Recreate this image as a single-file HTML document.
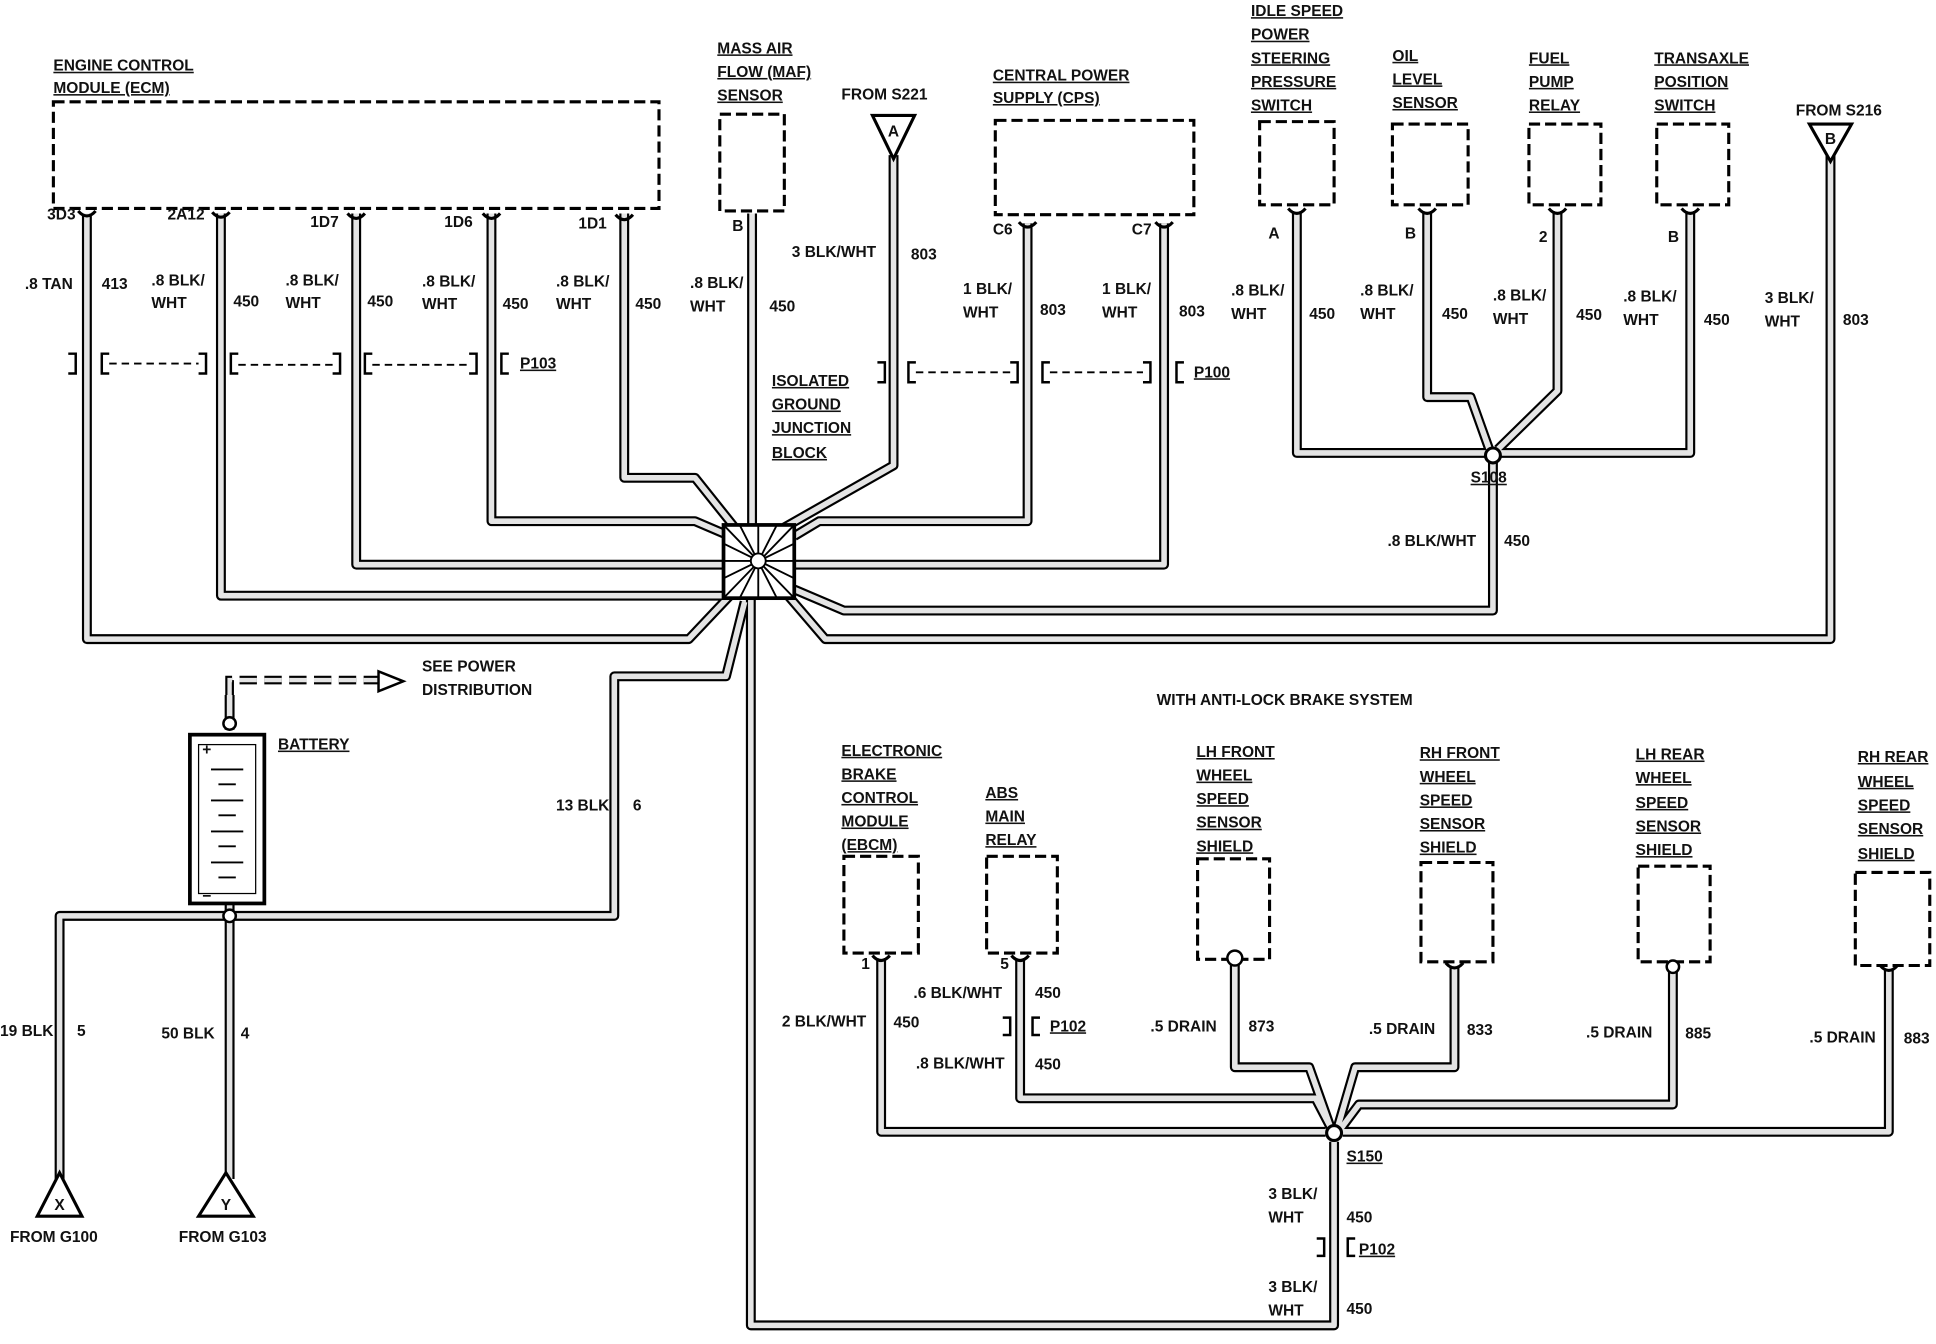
<!DOCTYPE html>
<html><head><meta charset="utf-8"><style>
html,body{margin:0;padding:0;background:#fff;}
svg{display:block}
text{font-family:"Liberation Sans",sans-serif;font-weight:bold;font-size:12.5px;fill:#111;}
.u{text-decoration:underline}
.c{text-anchor:middle}
</style></head><body>
<svg width="1936" height="1344" viewBox="0 0 1560 1083" xmlns="http://www.w3.org/2000/svg">
<defs>
<g id="pin"><path d="M-7,-4 Q0,4 7,-4" fill="none" stroke="#000" stroke-width="2.5"/></g>
<g id="wires">
<path d="M70,172 V515 H555 L590,478"/>
<path d="M178,172 V480 H583"/>
<path d="M287,172 V455 H583"/>
<path d="M396,172 V420 H560 L588,432"/>
<path d="M503,172 V385 H560 L592,425"/>
<path d="M606,172 V423"/>
<path d="M720,125 V375 L632,425"/>
<path d="M828,180 V420 H660 L640,432"/>
<path d="M938,180 V455 H640"/>
<path d="M1045,170 V365 H1198"/>
<path d="M1150,170 V320 H1185 L1200,362"/>
<path d="M1255,170 V315 L1207,362"/>
<path d="M1362,170 V365 H1208"/>
<path d="M1203,372 V492 H680 L640,475"/>
<path d="M1475,125 V515 H665 L635,480"/>
<path d="M185,560 V588"/>
<path d="M185,728 V950"/>
<path d="M185,738 H48 V950"/>
<path d="M185,738 H495 V545 H585 L600,485"/>
<path d="M605,482 V1068 H1075 V920"/>
<path d="M710,772 V912 H1068"/>
<path d="M822,772 V885 H1060 L1072,908"/>
<path d="M995,775 V860 H1055 L1072,908"/>
<path d="M1172,778 V860 H1092 L1078,908"/>
<path d="M1348,780 V890 H1095 L1080,910"/>
<path d="M1522,782 V912 H1082"/>
</g>
</defs>
<g fill="none" stroke="#000" stroke-width="2.5" stroke-dasharray="9,4">
<rect x="43" y="82" width="488" height="86"/>
<rect x="580" y="92" width="52" height="78"/>
<rect x="802" y="97" width="160" height="76"/>
<rect x="1015" y="98" width="60" height="67"/>
<rect x="1122" y="100" width="61" height="65"/>
<rect x="1232" y="100" width="58" height="65"/>
<rect x="1335" y="100" width="58" height="65"/>
<rect x="680" y="690" width="60" height="78"/>
<rect x="795" y="690" width="57" height="78"/>
<rect x="965" y="692" width="58" height="81"/>
<rect x="1145" y="695" width="58" height="80"/>
<rect x="1320" y="698" width="58" height="77"/>
<rect x="1495" y="703" width="60" height="75"/>
</g>
<g fill="none" stroke-linejoin="round">
<use href="#wires" stroke="#000" stroke-width="8"/>
<use href="#wires" stroke="#e4e4e4" stroke-width="4.5"/>
</g>
<use href="#pin" x="70" y="174"/><use href="#pin" x="178" y="175"/><use href="#pin" x="287" y="176"/><use href="#pin" x="396" y="176"/><use href="#pin" x="503" y="177"/>
<use href="#pin" x="828" y="183"/><use href="#pin" x="938" y="183"/><use href="#pin" x="1045" y="172"/><use href="#pin" x="1150" y="172"/><use href="#pin" x="1255" y="172"/><use href="#pin" x="1362" y="172"/>
<use href="#pin" x="710" y="774"/><use href="#pin" x="822" y="774"/><use href="#pin" x="1172" y="780"/><use href="#pin" x="1522" y="782"/>
<circle cx="995" cy="772" r="6" fill="#fff" stroke="#000" stroke-width="2"/>
<circle cx="1348" cy="779" r="5" fill="#fff" stroke="#000" stroke-width="2"/>
<circle cx="1203" cy="367" r="6" fill="#fff" stroke="#000" stroke-width="2.5"/>
<circle cx="1075" cy="913" r="6" fill="#fff" stroke="#000" stroke-width="2.5"/>
<rect x="583" y="423" width="57" height="59" fill="#fff" stroke="#000" stroke-width="3"/>
<g stroke="#000" stroke-width="1.5">
<line x1="583" y1="423" x2="640" y2="482"/><line x1="640" y1="423" x2="583" y2="482"/>
<line x1="611" y1="423" x2="611" y2="482"/><line x1="583" y1="452" x2="640" y2="452"/>
<line x1="596" y1="423" x2="626" y2="482"/><line x1="626" y1="423" x2="596" y2="482"/>
<line x1="583" y1="438" x2="640" y2="466"/><line x1="583" y1="466" x2="640" y2="438"/>
</g>
<circle cx="611" cy="452" r="6" fill="#fff" stroke="#000" stroke-width="1.5"/>
<g fill="#fff" stroke="#000" stroke-width="2.5">
<path d="M703,93 H737 L720,128 Z"/><path d="M1458,100 H1492 L1475,130 Z"/>
<path d="M30,980 H66 L48,945 Z"/><path d="M160,980 H204 L182,945 Z"/>
</g>
<text x="720" y="110" class="c">A</text><text x="1475" y="116" class="c">B</text><text x="48" y="975" class="c">X</text><text x="182" y="975" class="c">Y</text>
<g fill="none" stroke="#000" stroke-width="2">
<path d="M55,285 h6 v16 h-6"/><path d="M88,285 h-6 v16 h6"/><path d="M160,285 h6 v16 h-6"/><path d="M192,285 h-6 v16 h6"/>
<path d="M268,285 h6 v16 h-6"/><path d="M300,285 h-6 v16 h6"/><path d="M378,285 h6 v16 h-6"/><path d="M410,285 h-6 v16 h6"/>
<path d="M707,292 h6 v16 h-6"/><path d="M738,292 h-6 v16 h6"/><path d="M814,292 h6 v16 h-6"/><path d="M846,292 h-6 v16 h6"/>
<path d="M921,292 h6 v16 h-6"/><path d="M954,292 h-6 v16 h6"/>
<path d="M808,820 h6 v14 h-6"/><path d="M838,820 h-6 v14 h6"/>
<path d="M1061,998 h6 v14 h-6"/><path d="M1092,998 h-6 v14 h6"/>
</g>
<g stroke="#000" stroke-width="1.5" stroke-dasharray="6,4">
<line x1="88" y1="293" x2="160" y2="293"/><line x1="192" y1="294" x2="268" y2="294"/><line x1="300" y1="294" x2="378" y2="294"/>
<line x1="738" y1="300" x2="814" y2="300"/><line x1="846" y1="300" x2="921" y2="300"/>
</g>
<rect x="153" y="592" width="60" height="136" fill="#fff" stroke="#000" stroke-width="3"/>
<rect x="160" y="600" width="46" height="120" fill="none" stroke="#000" stroke-width="1"/>
<g stroke="#000" stroke-width="1.5">
<line x1="170" y1="620" x2="196" y2="620"/><line x1="176" y1="632" x2="190" y2="632"/><line x1="170" y1="645" x2="196" y2="645"/><line x1="176" y1="657" x2="190" y2="657"/><line x1="170" y1="670" x2="196" y2="670"/><line x1="176" y1="682" x2="190" y2="682"/><line x1="170" y1="695" x2="196" y2="695"/><line x1="176" y1="707" x2="190" y2="707"/>
</g>
<text x="163" y="608">+</text><text x="163" y="726">−</text>
<circle cx="185" cy="583" r="5" fill="#fff" stroke="#000" stroke-width="2"/>
<circle cx="185" cy="738" r="5" fill="#fff" stroke="#000" stroke-width="2"/>
<path d="M185,560 V548 H305" fill="none" stroke="#000" stroke-width="7" stroke-dasharray="14,6"/>
<path d="M185,560 V548 H305" fill="none" stroke="#e4e4e4" stroke-width="3.5" stroke-dasharray="14,6"/>
<path d="M305,541 L325,549 L305,557 Z" fill="#fff" stroke="#000" stroke-width="2"/>
<text x="43" y="57" class="u">ENGINE CONTROL</text><text x="43" y="75" class="u">MODULE (ECM)</text>
<text x="38" y="177">3D3</text><text x="135" y="177">2A12</text><text x="250" y="183">1D7</text><text x="358" y="183">1D6</text><text x="466" y="184">1D1</text>
<text x="20" y="233">.8 TAN</text><text x="82" y="233">413</text>
<text x="122" y="230">.8 BLK/</text><text x="122" y="248">WHT</text><text x="188" y="247">450</text>
<text x="230" y="230">.8 BLK/</text><text x="230" y="248">WHT</text><text x="296" y="247">450</text>
<text x="340" y="231">.8 BLK/</text><text x="340" y="249">WHT</text><text x="405" y="249">450</text>
<text x="448" y="231">.8 BLK/</text><text x="448" y="249">WHT</text><text x="512" y="249">450</text>
<text x="419" y="297" class="u">P103</text>
<text x="578" y="43" class="u">MASS AIR</text><text x="578" y="62" class="u">FLOW (MAF)</text><text x="578" y="81" class="u">SENSOR</text>
<text x="590" y="186">B</text>
<text x="556" y="232">.8 BLK/</text><text x="556" y="251">WHT</text><text x="620" y="251">450</text>
<text x="678" y="80">FROM S221</text>
<text x="638" y="207">3 BLK/WHT</text><text x="734" y="209">803</text>
<text x="622" y="311" class="u">ISOLATED</text><text x="622" y="330" class="u">GROUND</text><text x="622" y="349" class="u">JUNCTION</text><text x="622" y="369" class="u">BLOCK</text>
<text x="800" y="65" class="u">CENTRAL POWER</text><text x="800" y="83" class="u">SUPPLY (CPS)</text>
<text x="800" y="189">C6</text><text x="912" y="189">C7</text>
<text x="776" y="237">1 BLK/</text><text x="776" y="256">WHT</text><text x="838" y="254">803</text>
<text x="888" y="237">1 BLK/</text><text x="888" y="256">WHT</text><text x="950" y="255">803</text>
<text x="962" y="304" class="u">P100</text>
<text x="1008" y="13" class="u">IDLE SPEED</text><text x="1008" y="32" class="u">POWER</text><text x="1008" y="51" class="u">STEERING</text><text x="1008" y="70" class="u">PRESSURE</text><text x="1008" y="89" class="u">SWITCH</text>
<text x="1122" y="49" class="u">OIL</text><text x="1122" y="68" class="u">LEVEL</text><text x="1122" y="87" class="u">SENSOR</text>
<text x="1232" y="51" class="u">FUEL</text><text x="1232" y="70" class="u">PUMP</text><text x="1232" y="89" class="u">RELAY</text>
<text x="1333" y="51" class="u">TRANSAXLE</text><text x="1333" y="70" class="u">POSITION</text><text x="1333" y="89" class="u">SWITCH</text>
<text x="1447" y="93">FROM S216</text>
<text x="1022" y="192">A</text><text x="1132" y="192">B</text><text x="1240" y="195">2</text><text x="1344" y="195">B</text>
<text x="992" y="238">.8 BLK/</text><text x="992" y="257">WHT</text><text x="1055" y="257">450</text>
<text x="1096" y="238">.8 BLK/</text><text x="1096" y="257">WHT</text><text x="1162" y="257">450</text>
<text x="1203" y="242">.8 BLK/</text><text x="1203" y="261">WHT</text><text x="1270" y="258">450</text>
<text x="1308" y="243">.8 BLK/</text><text x="1308" y="262">WHT</text><text x="1373" y="262">450</text>
<text x="1422" y="244">3 BLK/</text><text x="1422" y="263">WHT</text><text x="1485" y="262">803</text>
<text x="1185" y="389" class="u">S108</text>
<text x="1118" y="440">.8 BLK/WHT</text><text x="1212" y="440">450</text>
<text x="340" y="541">SEE POWER</text><text x="340" y="560">DISTRIBUTION</text>
<text x="224" y="604" class="u">BATTERY</text>
<text x="448" y="653">13 BLK</text><text x="510" y="653">6</text>
<text x="0" y="835">19 BLK</text><text x="62" y="835">5</text>
<text x="130" y="837">50 BLK</text><text x="194" y="837">4</text>
<text x="8" y="1001">FROM G100</text><text x="144" y="1001">FROM G103</text>
<text x="932" y="568">WITH ANTI-LOCK BRAKE SYSTEM</text>
<text x="678" y="609" class="u">ELECTRONIC</text><text x="678" y="628" class="u">BRAKE</text><text x="678" y="647" class="u">CONTROL</text><text x="678" y="666" class="u">MODULE</text><text x="678" y="685" class="u">(EBCM)</text>
<text x="794" y="643" class="u">ABS</text><text x="794" y="662" class="u">MAIN</text><text x="794" y="681" class="u">RELAY</text>
<text x="964" y="610" class="u">LH FRONT</text><text x="964" y="629" class="u">WHEEL</text><text x="964" y="648" class="u">SPEED</text><text x="964" y="667" class="u">SENSOR</text><text x="964" y="686" class="u">SHIELD</text>
<text x="1144" y="611" class="u">RH FRONT</text><text x="1144" y="630" class="u">WHEEL</text><text x="1144" y="649" class="u">SPEED</text><text x="1144" y="668" class="u">SENSOR</text><text x="1144" y="687" class="u">SHIELD</text>
<text x="1318" y="612" class="u">LH REAR</text><text x="1318" y="631" class="u">WHEEL</text><text x="1318" y="651" class="u">SPEED</text><text x="1318" y="670" class="u">SENSOR</text><text x="1318" y="689" class="u">SHIELD</text>
<text x="1497" y="614" class="u">RH REAR</text><text x="1497" y="634" class="u">WHEEL</text><text x="1497" y="653" class="u">SPEED</text><text x="1497" y="672" class="u">SENSOR</text><text x="1497" y="692" class="u">SHIELD</text>
<text x="694" y="781">1</text><text x="806" y="781">5</text>
<text x="630" y="827">2 BLK/WHT</text><text x="720" y="828">450</text>
<text x="736" y="804">.6 BLK/WHT</text><text x="834" y="804">450</text>
<text x="846" y="831" class="u">P102</text>
<text x="738" y="861">.8 BLK/WHT</text><text x="834" y="862">450</text>
<text x="927" y="831">.5 DRAIN</text><text x="1006" y="831">873</text>
<text x="1103" y="833">.5 DRAIN</text><text x="1182" y="834">833</text>
<text x="1278" y="836">.5 DRAIN</text><text x="1358" y="837">885</text>
<text x="1458" y="840">.5 DRAIN</text><text x="1534" y="841">883</text>
<text x="1085" y="936" class="u">S150</text>
<text x="1022" y="966">3 BLK/</text><text x="1022" y="985">WHT</text><text x="1085" y="985">450</text>
<text x="1095" y="1011" class="u">P102</text>
<text x="1022" y="1041">3 BLK/</text><text x="1022" y="1060">WHT</text><text x="1085" y="1059">450</text>
</svg>
</body></html>
